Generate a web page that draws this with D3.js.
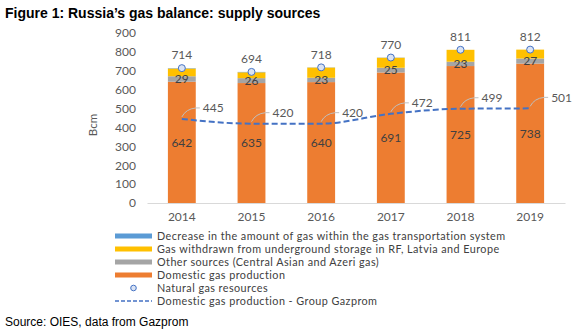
<!DOCTYPE html>
<html>
<head>
<meta charset="utf-8">
<script src="https://cdn.jsdelivr.net/npm/d3@7"></script>
<style>
  body { margin: 0; background: #fff; }
  text { font-family: Lato, "Open Sans", sans-serif; fill: #595959; }
  .title { font-family: "Liberation Sans", Arial, sans-serif; font-weight: bold; font-size: 14px; fill: #000; }
  .source { font-family: "Liberation Sans", Arial, sans-serif; font-size: 12px; fill: #000; }
  .tick text { font-size: 12px; }
  .lbl { font-size: 12px; }
  .legend text { font-size: 10.8px; letter-spacing: 0.45px; fill: #404040; }
</style>
</head>
<body>
<script>
"use strict";

// data
var years = ['2014', '2015', '2016', '2017', '2018', '2019'];
var domestic = [642, 635, 640, 691, 725, 738];
var other = [29, 26, 23, 25, 23, 27];
var storage = [41, 31, 54, 53, 63, 47];
var decrease = [2, 2, 1, 1, 0, 0];
var resources = [714, 694, 718, 770, 811, 812];
var gazprom = [445, 420, 420, 472, 499, 501];
var y_ticks = [0, 100, 200, 300, 400, 500, 600, 700, 800, 900];

var series_names = ['domestic', 'other', 'storage', 'decrease'];
var colors = {domestic: '#ED7D31', other: '#A5A5A5', storage: '#FFC000', decrease: '#5B9BD5'};

var width = 580, height = 330;

var svg = d3.select('body').append('svg')
  .attr('width', width)
  .attr('height', height);

// title and source
svg.append('text')
  .attr('class', 'title')
  .attr('x', 5).attr('y', 18)
  .text('Figure 1: Russia\u2019s gas balance: supply sources');

svg.append('text')
  .attr('class', 'source')
  .attr('x', 5).attr('y', 326)
  .text('Source: OIES, data from Gazprom');

// scales -----------------------------------------------------
var x = d3.scaleBand()
  .domain(years)
  .range([147, 565])
  .paddingInner(0.6)
  .paddingOuter(0.3);

var y = d3.scaleLinear()
  .domain([0, 900])
  .range([203, 33]);

// y axis (labels only)
svg.append('g')
  .attr('transform', 'translate(136, 0)')
  .call(d3.axisLeft(y).tickValues(y_ticks).tickSize(0).tickPadding(0))
  .call(g => g.select('.domain').remove());

svg.append('text')
  .attr('transform', 'translate(97, 125) rotate(-90)')
  .attr('text-anchor', 'middle')
  .style('font-size', '11.5px')
  .text('Bcm');

// x axis
var x_axis = svg.append('g')
  .attr('transform', `translate(0, ${y(0)})`)
  .call(d3.axisBottom(x).tickSize(0).tickPadding(9));
x_axis.select('.domain').attr('stroke', '#D9D9D9');

// stacked bars
var table = years.map((yr, i) => ({
  year: yr, domestic: domestic[i], other: other[i],
  storage: storage[i], decrease: decrease[i]
}));

var stack = d3.stack().keys(series_names)(table);

svg.append('g')
  .selectAll('g')
  .data(stack)
  .join('g')
    .attr('fill', d => colors[d.key])
  .selectAll('rect')
  .data(d => d)
  .join('rect')
    .attr('x', d => x(d.data.year))
    .attr('y', d => y(d[1]))
    .attr('width', x.bandwidth())
    .attr('height', d => y(d[0]) - y(d[1]));

// value labels inside bars
var cx = yr => x(yr) + x.bandwidth() / 2;

svg.append('g').selectAll('text')
  .data(years)
  .join('text')
    .attr('class', 'lbl')
    .attr('x', d => cx(d))
    .attr('y', (d, i) => y(domestic[i] / 2))
    .attr('dy', '0.35em')
    .attr('text-anchor', 'middle')
    .style('fill', '#404040')
    .text((d, i) => domestic[i]);

svg.append('g').selectAll('text')
  .data(years)
  .join('text')
    .attr('class', 'lbl')
    .attr('x', d => cx(d))
    .attr('y', (d, i) => y(domestic[i] + other[i] / 2))
    .attr('dy', '0.35em')
    .attr('text-anchor', 'middle')
    .style('fill', '#404040')
    .text((d, i) => other[i]);

// gazprom dashed line
var line = d3.line()
  .x((d, i) => cx(years[i]))
  .y(d => y(d))
  .curve(d3.curveMonotoneX);

svg.append('path')
  .datum(gazprom)
  .attr('d', line)
  .attr('fill', 'none')
  .attr('stroke', '#4472C4')
  .attr('stroke-width', 2)
  .attr('stroke-dasharray', '6,3');

// leader lines and labels for the line
var leaders = svg.append('g');
gazprom.forEach((v, i) => {
  var px = cx(years[i]), py = y(v);
  leaders.append('path')
    .attr('d', `M${px},${py - 2} Q${px + 4},${py - 10} ${px + 14},${py - 11} L${px + 18},${py - 11}`)
    .attr('fill', 'none')
    .attr('stroke', '#BFBFBF')
    .attr('stroke-width', 1);
  leaders.append('text')
    .attr('class', 'lbl')
    .attr('x', px + 21)
    .attr('y', py - 11)
    .attr('dy', '0.35em')
    .text(v);
});

// natural gas resources markers
svg.append('g').selectAll('circle')
  .data(resources)
  .join('circle')
    .attr('cx', (d, i) => cx(years[i]))
    .attr('cy', d => y(d))
    .attr('r', 3.5)
    .attr('fill', '#DAE3F3')
    .attr('stroke', '#4472C4')
    .attr('stroke-width', 1);

svg.append('g').selectAll('text')
  .data(resources)
  .join('text')
    .attr('class', 'lbl')
    .attr('x', (d, i) => cx(years[i]))
    .attr('y', d => y(d) - 13)
    .attr('dy', '0.35em')
    .attr('text-anchor', 'middle')
    .text(d => d);

// legend -----------------------------------------------------
var legend_items = [
  {label: 'Decrease in the amount of gas within the gas transportation system', type: 'rect', color: colors.decrease},
  {label: 'Gas withdrawn from underground storage in RF, Latvia and Europe', type: 'rect', color: colors.storage},
  {label: 'Other sources (Central Asian and Azeri gas)', type: 'rect', color: colors.other},
  {label: 'Domestic gas production', type: 'rect', color: colors.domestic},
  {label: 'Natural gas resources', type: 'circle', color: '#4472C4'},
  {label: 'Domestic gas production - Group Gazprom', type: 'dash', color: '#4472C4'}
];

var legend = svg.append('g')
  .attr('class', 'legend')
  .attr('transform', 'translate(115, 236)');

var row = legend.selectAll('g')
  .data(legend_items)
  .join('g')
    .attr('transform', (d, i) => `translate(0, ${i * 13})`);

row.filter(d => d.type === 'rect')
  .append('rect')
    .attr('x', 0).attr('y', -2.5)
    .attr('width', 37).attr('height', 5)
    .attr('fill', d => d.color);

row.filter(d => d.type === 'circle')
  .append('circle')
    .attr('cx', 18.5).attr('cy', 0)
    .attr('r', 2.8)
    .attr('fill', '#DAE3F3')
    .attr('stroke', d => d.color);

row.filter(d => d.type === 'dash')
  .append('line')
    .attr('x1', 0).attr('x2', 37)
    .attr('stroke', d => d.color)
    .attr('stroke-width', 1.5)
    .attr('stroke-dasharray', '4,2');

row.append('text')
  .attr('x', 42)
  .attr('dy', '0.35em')
  .text(d => d.label);
</script>
</body>
</html>
